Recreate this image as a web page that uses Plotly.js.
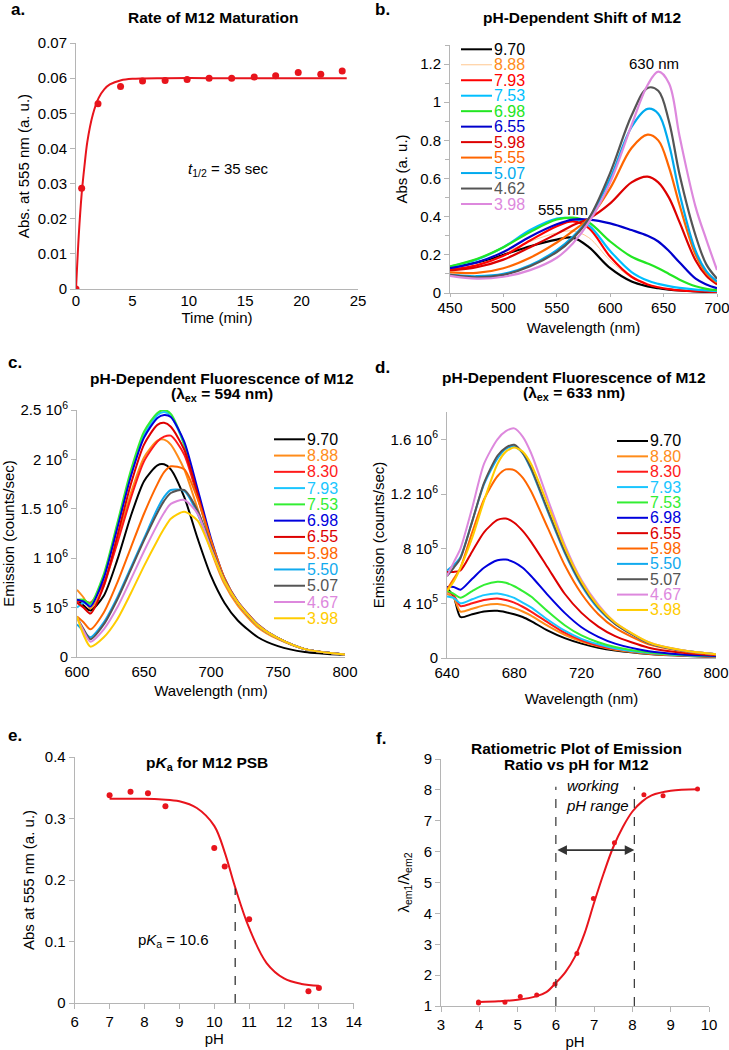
<!DOCTYPE html>
<html><head><meta charset="utf-8">
<script src="https://cdn.plot.ly/plotly-3.0.1.min.js"></script>
<style>html,body{margin:0;padding:0;background:#fff}</style>
</head><body><div id="chart" style="width:729px;height:1050px"></div>
<script>
// ---------- Panel a: maturation ----------
const maturationTime = [0, 0.5, 1.95, 3.95, 5.9, 7.9, 9.85, 11.8, 13.8, 15.8, 17.7, 19.7, 21.7, 23.6];
const maturationAbs  = [0, 0.0287, 0.0527, 0.0576, 0.0592, 0.0593, 0.0596, 0.0600, 0.0600, 0.0603, 0.0607, 0.0616, 0.0611, 0.0620];
const maturationFitTime = [0, 0.25, 0.5, 0.75, 1, 1.5, 2, 2.5, 3, 4, 5, 6, 8, 12, 16, 20, 24];
const maturationFitAbs  = [0, 0.0155, 0.027, 0.035, 0.0418, 0.0497, 0.0543, 0.0568, 0.0582, 0.0594, 0.0598, 0.0599, 0.06, 0.06, 0.06, 0.06, 0.06];

// ---------- Panel b: absorbance spectra ----------
const absWavelength = [450, 475, 500, 525, 550, 565, 580, 600, 620, 635, 645, 655, 665, 680, 690, 700];
const absLabels = ['9.70','8.88','7.93','7.53','6.98','6.55','5.98','5.55','5.07','4.62','3.98'];
const absSpectra = [
  [0.133,0.160,0.200,0.245,0.280,0.290,0.240,0.130,0.060,0.035,0.025,0.018,0.013,0.008,0.006,0.005],
  [0.128,0.160,0.210,0.270,0.315,0.325,0.290,0.170,0.080,0.045,0.030,0.020,0.015,0.010,0.008,0.006],
  [0.122,0.145,0.195,0.275,0.350,0.375,0.340,0.190,0.085,0.045,0.030,0.020,0.014,0.010,0.007,0.005],
  [0.138,0.175,0.240,0.330,0.390,0.390,0.355,0.220,0.110,0.065,0.048,0.036,0.027,0.018,0.014,0.010],
  [0.140,0.178,0.240,0.320,0.385,0.395,0.370,0.270,0.190,0.155,0.130,0.100,0.070,0.035,0.022,0.015],
  [0.130,0.160,0.215,0.295,0.360,0.385,0.385,0.365,0.330,0.300,0.270,0.220,0.160,0.075,0.045,0.025],
  [0.118,0.135,0.175,0.240,0.310,0.355,0.390,0.470,0.580,0.610,0.580,0.500,0.370,0.170,0.090,0.045],
  [0.108,0.105,0.130,0.185,0.265,0.325,0.390,0.550,0.760,0.830,0.800,0.660,0.460,0.200,0.105,0.055],
  [0.095,0.088,0.100,0.145,0.225,0.295,0.390,0.600,0.870,0.965,0.940,0.780,0.520,0.220,0.115,0.060],
  [0.095,0.082,0.095,0.140,0.215,0.285,0.390,0.630,0.930,1.075,1.060,0.900,0.620,0.300,0.150,0.075],
  [0.090,0.075,0.085,0.120,0.185,0.260,0.370,0.580,0.880,1.090,1.160,1.100,0.820,0.450,0.280,0.120]
];
const absColors = ['#000000','#ffc890','#ff0000','#00bfff','#22e622','#0000cc','#dd0000','#ff6600','#00aaee','#555555','#dd88dd'];
const absLabelColors = ['#000000','#ff8c1a','#ff0000','#00bfff','#22e622','#0000cc','#dd0000','#ff6600','#00aaee','#555555','#dd88dd'];

// ---------- Panel c: fluorescence, ex 594 nm ----------
const em594Wavelength = [600, 605, 610, 620, 630, 640, 650, 660, 665, 670, 680, 690, 700, 710, 720, 735, 750, 770, 800];
const em594Labels = ['9.70','8.88','8.30','7.93','7.53','6.98','6.55','5.98','5.50','5.07','4.67','3.98'];
const em594Spectra = [ // units of 10^6 counts/sec
  [0.58,0.52,0.47,0.62,0.98,1.42,1.78,1.94,1.95,1.90,1.62,1.20,0.82,0.55,0.37,0.20,0.11,0.05,0.02],
  [0.68,0.60,0.49,0.72,1.18,1.65,2.02,2.19,2.20,2.15,1.90,1.50,1.08,0.74,0.52,0.30,0.18,0.08,0.025],
  [0.56,0.57,0.55,0.75,1.15,1.60,1.98,2.18,2.23,2.24,2.05,1.62,1.15,0.78,0.55,0.32,0.19,0.08,0.025],
  [0.50,0.55,0.53,0.82,1.32,1.85,2.25,2.45,2.48,2.44,2.15,1.65,1.15,0.78,0.55,0.32,0.19,0.08,0.025],
  [0.58,0.58,0.54,0.84,1.35,1.88,2.28,2.47,2.50,2.46,2.15,1.65,1.15,0.78,0.55,0.32,0.19,0.08,0.025],
  [0.58,0.56,0.51,0.80,1.30,1.82,2.22,2.42,2.45,2.43,2.18,1.70,1.20,0.80,0.56,0.33,0.19,0.08,0.025],
  [0.55,0.50,0.44,0.72,1.22,1.74,2.15,2.35,2.37,2.33,2.10,1.65,1.17,0.79,0.55,0.32,0.19,0.08,0.025],
  [0.41,0.35,0.28,0.45,0.75,1.10,1.45,1.75,1.87,1.93,1.90,1.60,1.18,0.80,0.56,0.33,0.19,0.08,0.025],
  [0.33,0.26,0.20,0.35,0.60,0.90,1.20,1.50,1.62,1.69,1.68,1.45,1.10,0.77,0.55,0.32,0.19,0.08,0.025],
  [0.40,0.28,0.18,0.33,0.58,0.88,1.18,1.46,1.58,1.66,1.69,1.48,1.12,0.78,0.55,0.32,0.19,0.08,0.025],
  [0.40,0.26,0.155,0.28,0.50,0.78,1.07,1.34,1.46,1.55,1.59,1.45,1.10,0.77,0.55,0.32,0.19,0.08,0.025],
  [0.41,0.22,0.105,0.20,0.38,0.64,0.92,1.18,1.30,1.40,1.47,1.38,1.08,0.77,0.55,0.32,0.19,0.08,0.025]
];
const emColors = ['#000000','#ff8c1a','#ff1a1a','#1ac6ff','#33ee33','#0000dd','#dd0000','#ff6600','#11aaee','#555555','#dd88dd','#ffcc00'];

// ---------- Panel d: fluorescence, ex 633 nm ----------
const em633Wavelength = [640, 644, 648, 655, 662, 670, 675, 680, 685, 690, 700, 710, 720, 730, 740, 760, 780, 800];
const em633Labels = ['9.70','8.80','8.30','7.93','7.53','6.98','6.55','5.98','5.50','5.07','4.67','3.98'];
const em633Spectra = [ // units of 10^6 counts/sec
  [0.51,0.45,0.30,0.32,0.34,0.345,0.335,0.32,0.30,0.27,0.20,0.145,0.105,0.075,0.055,0.030,0.017,0.010],
  [0.47,0.44,0.34,0.36,0.385,0.395,0.385,0.365,0.34,0.31,0.235,0.17,0.12,0.085,0.060,0.032,0.018,0.010],
  [0.49,0.46,0.38,0.40,0.425,0.436,0.425,0.405,0.375,0.34,0.26,0.185,0.13,0.09,0.065,0.034,0.019,0.011],
  [0.45,0.44,0.40,0.43,0.46,0.472,0.46,0.44,0.405,0.37,0.28,0.20,0.14,0.10,0.070,0.036,0.020,0.012],
  [0.49,0.47,0.44,0.49,0.535,0.558,0.55,0.525,0.49,0.45,0.34,0.24,0.165,0.115,0.080,0.040,0.022,0.013],
  [0.52,0.52,0.50,0.58,0.66,0.715,0.72,0.70,0.66,0.60,0.46,0.33,0.225,0.155,0.105,0.050,0.026,0.015],
  [0.63,0.63,0.64,0.78,0.92,1.01,1.02,0.99,0.93,0.85,0.66,0.47,0.33,0.23,0.16,0.075,0.038,0.020],
  [0.50,0.58,0.66,0.92,1.16,1.33,1.38,1.375,1.32,1.22,0.95,0.68,0.47,0.32,0.22,0.10,0.050,0.025],
  [0.64,0.68,0.74,1.00,1.27,1.46,1.53,1.55,1.50,1.38,1.07,0.77,0.53,0.36,0.25,0.11,0.055,0.028],
  [0.60,0.66,0.73,1.00,1.28,1.48,1.54,1.56,1.50,1.39,1.08,0.78,0.54,0.37,0.25,0.11,0.055,0.028],
  [0.60,0.70,0.80,1.10,1.42,1.60,1.66,1.68,1.62,1.50,1.16,0.83,0.57,0.39,0.26,0.115,0.056,0.028],
  [0.49,0.56,0.66,0.88,1.15,1.42,1.51,1.54,1.51,1.42,1.12,0.81,0.56,0.38,0.26,0.115,0.056,0.028]
];
const EM_UNIT = 1e6;

// ---------- Panel e: pKa ----------
const pkaPH  = [7.0, 7.6, 8.1, 8.6, 10.0, 10.3, 11.0, 12.7, 13.0];
const pkaAbs = [0.338, 0.3435, 0.341, 0.320, 0.252, 0.222, 0.136, 0.019, 0.0245];
const pkaFitPH  = [7.0, 7.5, 8.0, 8.5, 9.0, 9.5, 10.0, 10.3, 10.6, 11.0, 11.5, 12.0, 12.5, 13.0];
const pkaFitAbs = [0.332, 0.332, 0.332, 0.331, 0.328, 0.317, 0.288, 0.245, 0.188, 0.122, 0.065, 0.040, 0.031, 0.028];
const pKa = 10.6, pKaLineTop = 0.186;

// ---------- Panel f: ratiometric ----------
const ratioPH  = [3.98, 3.98, 4.67, 5.07, 5.50, 5.98, 6.55, 6.98, 7.53, 8.30, 8.80, 9.70];
const ratioVal = [1.10, 1.13, 1.12, 1.31, 1.36, 1.71, 2.70, 4.48, 6.29, 7.84, 7.81, 8.03];
const ratioFitPH  = [4.0, 4.5, 5.0, 5.5, 5.75, 6.0, 6.25, 6.5, 6.75, 7.0, 7.25, 7.5, 7.75, 8.0, 8.25, 8.5, 9.0, 9.7];
const ratioFitVal = [1.13, 1.15, 1.20, 1.32, 1.45, 1.75, 2.10, 2.60, 3.35, 4.35, 5.30, 6.15, 6.80, 7.30, 7.62, 7.82, 7.97, 8.02];
const workingRange = [6.0, 8.05], workingLineTop = 8.1, arrowY = 6.05;

// ---------- layout helpers ----------
const W = 729, H = 1050;
const px = x => x / W, py = y => 1 - y / H;
const FONT = '"Liberation Sans", Arial, Helvetica, sans-serif';
const AXC = '#b5b5b5';
const RED = '#e8141c';

function ax(extra) {
  return Object.assign({
    showline: true, linecolor: AXC, linewidth: 1, ticks: 'outside', ticklen: 5, tickcolor: AXC,
    showgrid: false, zeroline: false, tickfont: {size: 15, color: '#000', family: FONT}, fixedrange: true,
    ticklabeloverflow: 'allow'
  }, extra);
}
function ttl(text, standoff) { return {text: text, font: {size: 15, color: '#000', family: FONT}, standoff: standoff}; }

const traces = [];
const shapes = [];
const annotations = [];

// a
traces.push({x: maturationFitTime, y: maturationFitAbs, xaxis: 'x', yaxis: 'y', mode: 'lines', line: {color: RED, width: 2, shape: 'spline', smoothing: 0.8}, showlegend: false});
traces.push({x: maturationTime, y: maturationAbs, xaxis: 'x', yaxis: 'y', mode: 'markers', marker: {color: RED, size: 7}, showlegend: false});
// b
absSpectra.forEach((s, i) => traces.push({x: absWavelength, y: s, xaxis: 'x2', yaxis: 'y2', mode: 'lines', name: absLabels[i],
  line: {color: absColors[i], width: i === 1 ? 1 : 2.2, shape: 'spline', smoothing: 1}, showlegend: false}));
// c
em594Spectra.forEach((s, i) => traces.push({x: em594Wavelength, y: s.map(v => v * EM_UNIT), xaxis: 'x3', yaxis: 'y3', mode: 'lines', name: em594Labels[i],
  line: {color: emColors[i], width: 2, shape: 'spline', smoothing: 0.7}, showlegend: false}));
// d
em633Spectra.forEach((s, i) => traces.push({x: em633Wavelength, y: s.map(v => v * EM_UNIT), xaxis: 'x4', yaxis: 'y4', mode: 'lines', name: em633Labels[i],
  line: {color: emColors[i], width: 2, shape: 'spline', smoothing: 0.7}, showlegend: false}));
// e
traces.push({x: pkaFitPH, y: pkaFitAbs, xaxis: 'x5', yaxis: 'y5', mode: 'lines', line: {color: RED, width: 2, shape: 'spline', smoothing: 1}, showlegend: false});
traces.push({x: pkaPH, y: pkaAbs, xaxis: 'x5', yaxis: 'y5', mode: 'markers', marker: {color: RED, size: 6}, showlegend: false});
// f
traces.push({x: ratioFitPH, y: ratioFitVal, xaxis: 'x6', yaxis: 'y6', mode: 'lines', line: {color: RED, width: 2, shape: 'spline', smoothing: 1}, showlegend: false});
traces.push({x: ratioPH, y: ratioVal, xaxis: 'x6', yaxis: 'y6', mode: 'markers', marker: {color: RED, size: 5}, showlegend: false});

// reference lines
shapes.push({type: 'line', xref: 'x5', yref: 'y5', x0: pKa, x1: pKa, y0: 0, y1: pKaLineTop, line: {color: '#222', width: 1.2, dash: 'dash'}});
workingRange.forEach(v => shapes.push({type: 'line', xref: 'x6', yref: 'y6', x0: v, x1: v, y0: 1, y1: workingLineTop, line: {color: '#333', width: 1.2, dash: 'dash'}}));
annotations.push({xref: 'x6', yref: 'y6', x: workingRange[1], y: arrowY, ax: workingRange[0], ay: arrowY, axref: 'x6', ayref: 'y6',
  text: '', showarrow: true, arrowhead: 2, arrowside: 'end+start', arrowsize: 1.2, arrowwidth: 1.6, arrowcolor: '#333'});

// custom legends (compact rows)
function addLegend(labels, lineColors, textColors, widths, xLine, yFirst, step) {
  labels.forEach((lab, i) => {
    const y = yFirst + i * step;
    shapes.push({type: 'line', xref: 'paper', yref: 'paper', x0: px(xLine), x1: px(xLine + 31), y0: py(y), y1: py(y),
      line: {color: lineColors[i], width: widths ? widths[i] : 2}});
    annotations.push({xref: 'paper', yref: 'paper', x: px(xLine + 31), y: py(y), xanchor: 'left', yanchor: 'middle', showarrow: false,
      text: lab, font: {size: 16, color: textColors[i], family: FONT}});
  });
}
addLegend(absLabels, absColors, absLabelColors, absLabels.map((_, i) => i === 1 ? 1 : 2), 461, 49.3, 15.47);
addLegend(em594Labels, emColors, emColors, null, 274, 439.3, 16.27);
addLegend(em633Labels, emColors, emColors, null, 617, 441, 15.36);

// panel titles
function title(text, x, y) {
  annotations.push({xref: 'paper', yref: 'paper', x: px(x), y: py(y), xanchor: 'center', yanchor: 'middle', showarrow: false,
    text: '<b>' + text + '</b>', font: {size: 15.5, color: '#000', family: FONT}});
}
title('Rate of M12 Maturation', 213, 18);
title('pH-Dependent Shift of M12', 582, 18);
title('pH-Dependent Fluorescence of M12', 222, 378);
title('(λ<sub>ex</sub> = 594 nm)', 222, 394);
title('pH-Dependent Fluorescence of M12', 574, 377);
title('(λ<sub>ex</sub> = 633 nm)', 574, 393);
title('p<i>K</i><sub>a</sub> for M12 PSB', 207, 763);
title('Ratiometric Plot of Emission', 576, 748);
title('Ratio vs pH for M12', 576, 764);

// panel letters
[['a.', 18, 10], ['b.', 382, 10], ['c.', 15, 363], ['d.', 382, 367], ['e.', 15, 735], ['f.', 381, 738]].forEach(p =>
  annotations.push({xref: 'paper', yref: 'paper', x: px(p[1]), y: py(p[2]), xanchor: 'center', yanchor: 'middle', showarrow: false,
    text: '<b>' + p[0] + '</b>', font: {size: 17, color: '#000', family: FONT}}));

// in-plot text
const txt = (t, xr, yr, x, y, anchor) => annotations.push({xref: xr, yref: yr, x: x, y: y, xanchor: anchor || 'center', yanchor: 'middle',
  showarrow: false, text: t, align: 'left', font: {size: 15, color: '#000', family: FONT}});
txt('<i>t</i><sub>1/2</sub> = 35 sec', 'x', 'y', 13.5, 0.034);
txt('555 nm', 'x2', 'y2', 556, 0.44);
txt('630 nm', 'x2', 'y2', 641, 1.205);
txt('p<i>K</i><sub>a</sub> = 10.6', 'x5', 'y5', 8.82, 0.102);
txt('<i>working<br>pH range</i>', 'x6', 'y6', 6.22, 7.82, 'left');

const emTicks = [0, 4e5, 8e5, 1.2e6, 1.6e6];
const emTickText = ['0', '4 10<sup>5</sup>', '8 10<sup>5</sup>', '1.2 10<sup>6</sup>', '1.6 10<sup>6</sup>'];
const em594Ticks = [0, 5e5, 1e6, 1.5e6, 2e6, 2.5e6];
const em594TickText = ['0', '5 10<sup>5</sup>', '1 10<sup>6</sup>', '1.5 10<sup>6</sup>', '2 10<sup>6</sup>', '2.5 10<sup>6</sup>'];

const layout = {
  width: W, height: H, margin: {l: 0, r: 0, t: 0, b: 0}, paper_bgcolor: '#fff', plot_bgcolor: '#fff',
  font: {family: FONT, color: '#000'}, showlegend: false,
  xaxis:  ax({domain: [px(76), px(358)], anchor: 'y', range: [0, 25], dtick: 5, ticks: '', ticklabelstandoff: -2, title: ttl('Time (min)', 0)}),
  yaxis:  ax({domain: [py(289), py(43)], anchor: 'x', range: [0, 0.07], dtick: 0.01, title: ttl('Abs. at 555 nm (a. u.)', 4)}),
  xaxis2: ax({domain: [px(450), px(717)], anchor: 'y2', range: [450, 700], dtick: 50, ticklen: 3, ticklabelstandoff: -2, title: ttl('Wavelength (nm)', 7)}),
  yaxis2: ax({domain: [py(293), py(45)], anchor: 'x2', range: [0, 1.3], tickvals: [0, 0.2, 0.4, 0.6, 0.8, 1, 1.2],
    minor: {dtick: 0.1, ticks: 'outside', ticklen: 4, tickcolor: AXC}, title: ttl('Abs (a. u.)', 8)}),
  xaxis3: ax({domain: [px(77), px(345)], anchor: 'y3', range: [600, 800], dtick: 50, ticks: '', ticklabelstandoff: 1, title: ttl('Wavelength (nm)', 6)}),
  yaxis3: ax({domain: [py(657), py(410)], anchor: 'x3', range: [0, 2.5e6], tickvals: em594Ticks, ticktext: em594TickText, title: ttl('Emission (counts/sec)', 2)}),
  xaxis4: ax({domain: [px(447), px(716)], anchor: 'y4', range: [640, 800], dtick: 40, ticks: '', ticklabelstandoff: 1, title: ttl('Wavelength (nm)', 13)}),
  yaxis4: ax({domain: [py(658), py(412)], anchor: 'x4', range: [0, 1.8e6], tickvals: emTicks, ticktext: emTickText, title: ttl('Emission (counts/sec)', 2)}),
  xaxis5: ax({domain: [px(74.7), px(353.8)], anchor: 'y5', range: [6, 14], dtick: 1, title: ttl('pH', 4)}),
  yaxis5: ax({domain: [py(1003), py(757)], anchor: 'x5', range: [0, 0.4], dtick: 0.1, title: ttl('Abs at 555 nm (a. u.)', 6)}),
  xaxis6: ax({domain: [px(441), px(709)], anchor: 'y6', range: [3, 10], dtick: 1, title: ttl('pH', 4)}),
  yaxis6: ax({domain: [py(1006), py(759)], anchor: 'x6', range: [1, 9], dtick: 1, title: ttl('λ<sub>em1</sub>/λ<sub>em2</sub>', 10)}),
  shapes: shapes, annotations: annotations
};
Plotly.newPlot('chart', traces, layout, {displayModeBar: false, staticPlot: true});
</script></body></html>
